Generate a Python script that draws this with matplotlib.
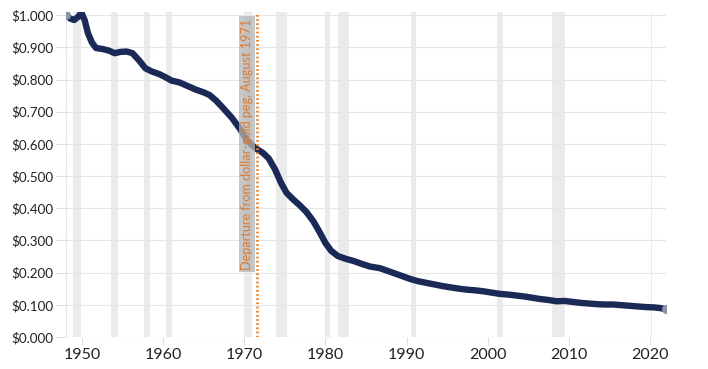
import matplotlib.pyplot as plt
from matplotlib.ticker import FuncFormatter

years = [1948.0, 1948.5, 1949.0, 1949.5, 1949.9, 1950.3, 1950.7, 1951.2, 1951.7,
         1952.5, 1953.3, 1954.0, 1954.7, 1955.5, 1956.2, 1957.0, 1957.8, 1958.6,
         1959.5, 1960.3, 1961.0, 1962.0, 1963.0, 1964.0, 1965.0, 1965.7, 1966.5,
         1967.5, 1968.5, 1969.5, 1970.3, 1971.0, 1971.6, 1972.3, 1973.0, 1973.8,
         1974.5, 1975.2, 1976.0, 1976.8, 1977.6, 1978.5, 1979.3, 1980.0, 1980.7,
         1981.5, 1982.5, 1983.5, 1984.5, 1985.5, 1986.7, 1987.5, 1988.5, 1989.5,
         1990.5, 1991.5, 1992.5, 1993.5, 1994.5, 1995.5, 1996.5, 1997.5, 1998.5,
         1999.5, 2000.5, 2001.5, 2002.5, 2003.5, 2004.5, 2005.5, 2006.5, 2007.5,
         2008.5, 2009.5, 2010.5, 2011.5, 2012.5, 2013.5, 2014.5, 2015.5, 2016.5,
         2017.5, 2018.5, 2019.5, 2020.5, 2021.3, 2022.0]
value = [1.000, 0.990, 0.985, 0.995, 1.008, 0.985, 0.945, 0.915, 0.898,
         0.895, 0.890, 0.882, 0.886, 0.887, 0.882, 0.860, 0.835, 0.825,
         0.817, 0.807, 0.797, 0.791, 0.780, 0.769, 0.760, 0.752, 0.735,
         0.708, 0.680, 0.645, 0.612, 0.595, 0.583, 0.572, 0.555, 0.520,
         0.480, 0.448, 0.428, 0.410, 0.390, 0.360, 0.325, 0.292, 0.268,
         0.252, 0.243, 0.236, 0.227, 0.219, 0.214, 0.207, 0.198, 0.189,
         0.180, 0.173, 0.168, 0.163, 0.158, 0.154, 0.150, 0.147, 0.145,
         0.142, 0.138, 0.134, 0.132, 0.129, 0.126, 0.122, 0.118, 0.115,
         0.111, 0.112, 0.109, 0.106, 0.104, 0.102, 0.101, 0.101, 0.099,
         0.097, 0.095, 0.093, 0.092, 0.090, 0.086]

recession_start = [1948.9, 1953.5, 1957.6, 1960.3, 1969.9, 1973.9, 1980.0,
                   1981.5, 1990.5, 2001.2, 2007.9, 2020.1]
recession_end = [1949.8, 1954.4, 1958.3, 1961.1, 1970.9, 1975.2, 1980.5,
                 1982.9, 1991.2, 2001.9, 2009.5, 2020.3]

peg_year = 1971.6
peg_label = "Departure from dollar-gold peg, August 1971"

plt.rcParams["font.family"] = ["Lato", "DejaVu Sans"]

fig = plt.figure(figsize=(7.08, 3.69), dpi=100)
ax = fig.add_axes([0.0932, 0.0867, 0.8475, 0.8808])

for s, e in zip(recession_start, recession_end):
    ax.axvspan(s, e, color="#ebebeb", lw=0, zorder=0)

ax.plot(years, value, color="#1b2957", lw=4.6, solid_capstyle="round",
        solid_joinstyle="round", zorder=3)
ax.plot([years[0], years[-1]], [value[0], value[-1]], "o", ms=5.5,
        color="#8a91aa", zorder=4)

ax.axvline(peg_year, color="#e8822a", lw=2, ls=(0, (0.6, 0.9)), zorder=5)
ax.text(peg_year - 0.55, 0.99, peg_label, rotation=90, ha="right", va="top",
        color="#e07a2e", fontsize=9.1, zorder=6,
        bbox=dict(boxstyle="square,pad=0.18", fc="#b5b5b5", ec="none", alpha=0.75))

ax.set_xlim(1948, 2022)
ax.set_ylim(0, 1.01)
ax.set_xticks([1950, 1960, 1970, 1980, 1990, 2000, 2010, 2020])
ax.set_yticks([i / 10 for i in range(11)])
ax.yaxis.set_major_formatter(FuncFormatter(lambda v, p: f"${v:.3f}"))
ax.grid(axis="y", color="#e6e6e6", lw=0.8, zorder=1)
ax.set_axisbelow(True)

for side in ["top", "right", "bottom"]:
    ax.spines[side].set_visible(False)
ax.spines["left"].set_color("#e6e6e6")
ax.spines["left"].set_linewidth(0.8)
ax.tick_params(axis="y", length=7, color="#dcdcdc", labelsize=9.7, labelcolor="#222222", pad=2)
ax.tick_params(axis="x", length=6, color="#dcdcdc", labelsize=11.5, labelcolor="#222222", pad=2)

fig.savefig("out.png", dpi=100)
